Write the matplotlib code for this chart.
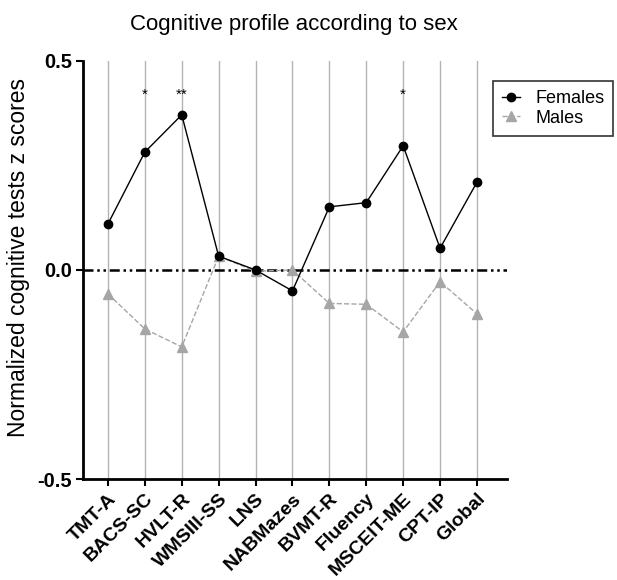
import matplotlib
matplotlib.use("Agg")
import matplotlib.pyplot as plt

plt.rcParams["font.family"] = ["Liberation Sans", "DejaVu Sans"]

tests = ["TMT-A", "BACS-SC", "HVLT-R", "WMSIII-SS", "LNS", "NABMazes",
         "BVMT-R", "Fluency", "MSCEIT-ME", "CPT-IP", "Global"]
females = [0.110, 0.282, 0.371, 0.033, 0.0, -0.050, 0.151, 0.161, 0.297, 0.052, 0.210]
males = [-0.057, -0.141, -0.184, 0.033, -0.003, 0.0, -0.080, -0.082, -0.148, -0.028, -0.105]
signif = {"BACS-SC": "*", "HVLT-R": "**", "MSCEIT-ME": "*"}


def main():
    fig = plt.figure(figsize=(6.17, 5.8), dpi=100)
    ax = fig.add_axes([0.1345, 0.174, 0.687, 0.721])

    x = list(range(len(tests)))
    for xi in x:
        ax.axvline(xi, color="#b3b3b3", lw=1.0, zorder=0)

    ax.axhline(0, color="black", lw=1.8, dashes=(4, 1.5, 1, 1.5, 1, 1.5), zorder=1)

    ax.plot(x, males, color="#a6a6a6", lw=1.0, ls="--", marker="^", ms=6.5,
            label="Males", zorder=2)
    ax.plot(x, females, color="black", lw=1.0, marker="o", ms=6,
            label="Females", zorder=3)

    for name, star in signif.items():
        ax.text(tests.index(name), 0.42, star, ha="center", va="center", fontsize=11)

    ax.set_xlim(-0.676, 10.81)
    ax.set_ylim(-0.5, 0.5)
    ax.set_yticks([-0.5, 0.0, 0.5])
    ax.set_yticklabels(["-0.5", "0.0", "0.5"], fontsize=14.5, fontweight="bold")
    ax.set_xticks(x)
    ax.set_xticklabels(tests, rotation=45, ha="right", rotation_mode="anchor",
                       fontsize=14, fontweight="bold")
    ax.tick_params(axis="both", direction="out", width=1.5, length=5, pad=3)

    for side in ["top", "right"]:
        ax.spines[side].set_visible(False)
    for side in ["left", "bottom"]:
        ax.spines[side].set_linewidth(2)

    ax.set_ylabel("Normalized cognitive tests z scores", fontsize=16.5)
    ax.yaxis.set_label_coords(-0.125, 0.531)
    fig.text(0.476, 0.958, "Cognitive profile according to sex", ha="center",
             va="center", fontsize=16)

    handles, labels = ax.get_legend_handles_labels()
    leg = ax.legend(handles[::-1], labels[::-1], loc="upper left",
                    bbox_to_anchor=(0.967, 0.952), borderaxespad=0, fontsize=13,
                    frameon=True, fancybox=False, edgecolor="black",
                    handlelength=1.0, handletextpad=0.85, borderpad=0.5,
                    labelspacing=0.15)
    leg.get_frame().set_linewidth(1.2)

    fig.savefig("out.png", dpi=100)


if __name__ == "__main__":
    main()
